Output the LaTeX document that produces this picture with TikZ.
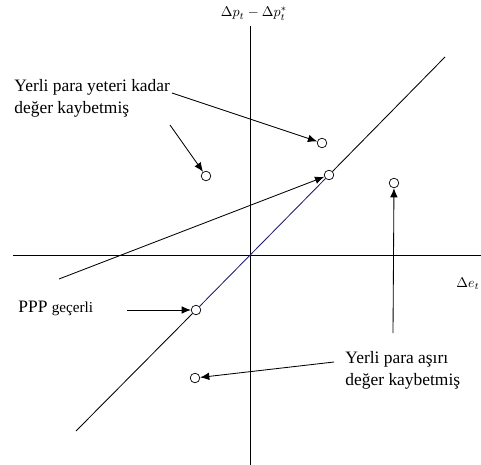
\documentclass[tikz,border=0pt]{standalone}
\usepackage{fontspec}
\setmainfont{Liberation Serif}
\usetikzlibrary{arrows.meta}
\definecolor{pppblue}{HTML}{1A1A6E}

\tikzset{
  pt/.style={circle, draw, fill=white, inner sep=0pt, minimum size=2.4mm, line width=0.5pt},
  lbl/.style={align=left, inner sep=0pt, font=\fontsize{12.4}{15.5}\selectfont},
  arr/.style={-{Latex[length=2.3mm,width=1.9mm]}},
}

\begin{document}
\begin{tikzpicture}[x=0.25mm, y=-0.25mm, line width=0.6pt]
    \useasboundingbox (0,0) rectangle (481,465);
    % axes
    \draw (13,255) -- (481,255);
    \draw (250,26) -- (250,465);
    \node[anchor=base, inner sep=0pt] (ylab) at (254,17) {$\Delta p_t - \Delta p_t^*$};
    \node[anchor=base west, inner sep=0pt] (xlab) at (456,287) {$\Delta e_t$};
    % points
    \node[pt] (onl) at (329,175) {};
    \node[pt] (ppp) at (196,310) {};
    \node[pt] (up) at (322,143) {};
    \node[pt] (left) at (206,176) {};
    \node[pt] (right) at (394,183) {};
    \node[pt] (low) at (195,378) {};
    % PPP line
    \coordinate (lo) at (76,431);
    \coordinate (hi) at (445,57);
    \draw (lo) -- (ppp);
    \draw[pppblue] (ppp) -- (onl);
    \draw (onl) -- (hi);
    % labels
    \node[lbl, anchor=north west] (yeteri) at (14,79) {Yerli para yeteri kadar\\değer kaybetmiş};
    \node[lbl, anchor=base west] (gecerli) at (18,312) {PPP {\fontsize{10.8}{12}\selectfont geçerli}};
    \node[lbl, anchor=north west] (asiri) at (345,351) {Yerli para aşırı\\değer kaybetmiş};
    % arrow tails
    \coordinate (t1) at (172,93);
    \coordinate (t2) at (170,125);
    \coordinate (t3) at (59,279);
    \coordinate (t4) at (127,310);
    \coordinate (t5) at (393,333);
    \coordinate (t6) at (334,362);
    \draw[arr] (t1) -- (up);
    \draw[arr] (t2) -- (left);
    \draw[arr] (t3) -- (onl);
    \draw[arr] (t4) -- (ppp);
    \draw[arr] (t5) -- (right);
    \draw[arr] (t6) -- (low);
\end{tikzpicture}
\end{document}
